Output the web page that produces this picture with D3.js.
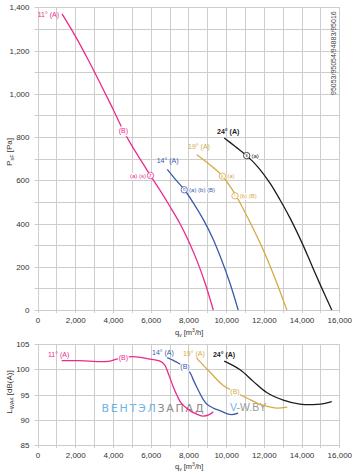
<!DOCTYPE html>
<html><head><meta charset="utf-8">
<script src="https://cdn.jsdelivr.net/npm/d3@7"></script>
<style>
html,body{margin:0;padding:0;background:#fff;}
svg{display:block;font-family:"Liberation Sans",Arial,sans-serif;}
</style></head>
<body><svg id="c" width="355" height="472"></svg>
<script>
// ---------- data ----------
const qTicks = [0,2000,4000,6000,8000,10000,12000,14000,16000];
const pTicks = [0,200,400,600,800,1000,1200,1400];
const lTicks = [85,90,95,100,105];
const angles = ["11°","14°","19°","24°"];
const colors = ["#ec2a8c","#3b5ba9","#d6ab45","#1c1c1c"];

const pressure11 = [[1300,1370],[2000,1268],[2700,1155],[3400,1035],[4000,930],[4550,830],[5000,760],[5500,690],[6000,620],[6500,553],[7000,482],[7550,400],[8080,305],[8500,218],[8900,120],[9320,0]];
const pressure14 = [[6880,650],[7300,605],[7800,555],[8300,490],[8800,417],[9300,330],[9700,245],[10200,125],[10640,0]];
const pressure19 = [[8440,718],[8800,695],[9300,660],[9800,620],[10300,560],[10650,510],[11300,400],[11970,278],[12600,145],[13220,0]];
const pressure24 = [[9900,796],[10500,755],[11090,714],[11700,660],[12325,587],[12855,510],[13390,425],[14000,315],[14500,215],[15000,115],[15600,0]];

const sound11 = [[1280,101.7],[2250,101.7],[3300,101.5],[3840,101.6],[4200,102.0],[4550,102.3],[5080,102.5],[5960,102.0],[6500,101.6],[6750,100.8],[6950,99.0],[7200,96.5],[7400,94.8],[7600,93.4],[8080,91.8],[8500,91.0],[8790,90.7],[9100,91.0],[9320,91.6]];
const sound14 = [[6880,102.3],[7380,101.4],[7820,100.4],[8080,99.4],[8260,97.9],[8440,96.5],[8790,94.0],[9000,93.0],[9320,92.3],[9670,91.8],[10030,91.2],[10300,91.0],[10640,91.3]];
const sound19 = [[8440,102.2],[8610,101.5],[9150,99.4],[9850,96.8],[10470,95.5],[11260,94.0],[11700,93.2],[12150,92.7],[12680,92.3],[13240,92.5]];
const sound24 = [[9900,101.6],[10740,99.9],[11440,97.6],[12150,95.4],[13030,93.9],[13910,93.1],[14620,93.0],[15000,93.1],[15600,93.6]];

// label anchors (data units)
const pressureTitles = [[1140,1368,"end"],[6320,695,"start"],[7980,757,"start"],[9520,827,"start"]];
const soundTitles = [[557,103.0],[6070,103.4],[7710,103.3],[9300,103.0]];
const pressureB = [[4550,830,0]];
const soundB = [[4550,102.3,0],[7820,100.5,1],[10470,95.6,2]];
// markers: q, P, series index, circled letter, text, text side
const markers = [[5990,622,0,"z","(a) (s)","left"],[7780,556,1,"n","(a) (b) (B)","right"],[9800,619,2,"k","(a)","right"],[10470,528,2,"t","(b) (B)","right"],[11090,714,3,"s","(a)","right"]];

const pressureSeries = [pressure11,pressure14,pressure19,pressure24];
const soundSeries = [sound11,sound14,sound19,sound24];

// ---------- layout ----------
const svg = d3.select("#c");
const X0 = 37.5, X1 = 339.3;
const x = d3.scaleLinear().domain([0,16000]).range([X0,X1]);
const yP = d3.scaleLinear().domain([0,1400]).range([310,7.3]);
const yL = d3.scaleLinear().domain([85,105]).range([445,344]);
const gridColor = "#cdcdcd";
const fmt = d3.format(",");

function grid(y, yMin, yMax, yStep){
  const g = svg.append("g");
  g.selectAll("line.v").data(d3.range(0,16001,1000)).join("line")
    .attr("x1",d=>Math.round(x(d))+0.5).attr("x2",d=>Math.round(x(d))+0.5)
    .attr("y1",y(yMax)).attr("y2",y(yMin)+3)
    .attr("stroke",gridColor).attr("stroke-width",1);
  g.selectAll("line.h").data(d3.range(yMin,yMax+0.001,yStep)).join("line")
    .attr("x1",X0-3).attr("x2",X1)
    .attr("y1",d=>Math.round(y(d))+0.5).attr("y2",d=>Math.round(y(d))+0.5)
    .attr("stroke",gridColor).attr("stroke-width",1);
}
grid(yP,0,1400,100);
grid(yL,85,105,5);

function xAxis(y0){
  const a = d3.axisBottom(x).tickValues(qTicks).tickFormat(fmt).tickSize(0).tickPadding(7.5);
  const g = svg.append("g").attr("transform",`translate(0,${y0})`).call(a);
  g.select(".domain").remove();
  g.selectAll("text").attr("font-size",8).attr("fill","#333").attr("font-family","Liberation Sans, Arial, sans-serif");
}
xAxis(310); xAxis(445);
function yAxis(y, ticks, f){
  const a = d3.axisLeft(y).tickValues(ticks).tickFormat(f).tickSize(0).tickPadding(8);
  const g = svg.append("g").attr("transform",`translate(${X0},0)`).call(a);
  g.select(".domain").remove();
  g.selectAll("text").attr("font-size",8).attr("fill","#333").attr("font-family","Liberation Sans, Arial, sans-serif");
}
yAxis(yP,pTicks,fmt); yAxis(yL,lTicks,d3.format("d"));

function xTitle(yy){
  const t = svg.append("text").attr("x",175).attr("y",yy).attr("font-size",7.5).attr("fill","#333");
  t.append("tspan").text("q");
  t.append("tspan").attr("font-size",5).attr("dy",1.5).text("v");
  t.append("tspan").attr("dy",-1.5).text(" [m");
  t.append("tspan").attr("font-size",5).attr("dy",-3).text("3");
  t.append("tspan").attr("dy",3).text("/h]");
}
xTitle(335); xTitle(469);
function yTitle(cy, main, sub, rest){
  const t = svg.append("text").attr("transform",`translate(12,${cy}) rotate(-90)`)
    .attr("text-anchor","middle").attr("font-size",8).attr("fill","#333");
  t.append("tspan").text(main);
  t.append("tspan").attr("font-size",5.5).attr("dy",2).text(sub);
  t.append("tspan").attr("dy",-2).text(rest);
}
yTitle(152,"P","sF"," [Pa]");
yTitle(392,"L","WA4"," [dB(A)]");

svg.append("text").attr("transform","translate(336,95) rotate(-90)")
  .attr("font-size",7).attr("fill","#444").text("95053/95054/94883/95016");

// watermark
const wm = svg.append("text").attr("x",101.5).attr("y",412).attr("font-size",11)
  .attr("textLength",102).attr("lengthAdjust","spacing")
  .attr("font-family","DejaVu Sans, sans-serif");
wm.append("tspan").attr("fill","#6fb4e8").text("ВЕНТЭЛ");
wm.append("tspan").attr("fill","#8a8a8a").text("ЗАПАД");
const wm2 = svg.append("text").attr("x",230).attr("y",411).attr("font-size",10.5);
wm2.append("tspan").attr("fill","#6fb4e8").text("V");
wm2.append("tspan").attr("fill","#9a9a9a").text("-W.BY");

// curves
const lineP = d3.line().x(d=>x(d[0])).y(d=>yP(d[1])).curve(d3.curveCatmullRom.alpha(0.5));
const lineL = d3.line().x(d=>x(d[0])).y(d=>yL(d[1])).curve(d3.curveCatmullRom.alpha(0.5));
svg.append("g").selectAll("path").data(pressureSeries).join("path")
  .attr("d",lineP).attr("fill","none").attr("stroke",(d,i)=>colors[i]).attr("stroke-width",1.3);
svg.append("g").selectAll("path").data(soundSeries).join("path")
  .attr("d",lineL).attr("fill","none").attr("stroke",(d,i)=>colors[i]).attr("stroke-width",1.3);

pressureTitles.forEach((d,i)=>{
  svg.append("text").attr("x",x(d[0])).attr("y",yP(d[1])+3).attr("text-anchor",d[2])
    .attr("font-size",7).attr("fill",colors[i]).attr("font-weight",i===3?"bold":"normal")
    .text(angles[i]+" (A)");
});
soundTitles.forEach((d,i)=>{
  svg.append("text").attr("x",x(d[0])).attr("y",yL(d[1])+3)
    .attr("font-size",7).attr("fill",colors[i]).attr("font-weight",i===3?"bold":"normal")
    .text(angles[i]+" (A)");
});
function bLabel(px,py,c){
  svg.append("text").attr("x",px).attr("y",py+2.6).attr("text-anchor","middle")
    .attr("font-size",7).attr("fill",c).attr("stroke","#fff").attr("stroke-width",2.5)
    .attr("paint-order","stroke").text("(B)");
}
pressureB.forEach(d=>bLabel(x(d[0]),yP(d[1]),colors[d[2]]));
soundB.forEach(d=>bLabel(x(d[0]),yL(d[1]),colors[d[2]]));

markers.forEach(d=>{
  const cx = x(d[0]), cy = yP(d[1]), c = colors[d[2]];
  svg.append("circle").attr("cx",cx).attr("cy",cy).attr("r",3.2).attr("fill","#fff").attr("stroke",c).attr("stroke-width",0.8);
  svg.append("text").attr("x",cx).attr("y",cy+1.6).attr("text-anchor","middle").attr("font-size",4.5).attr("fill",c).text(d[3]);
  const left = d[5]==="left";
  svg.append("text").attr("x",left?cx-4.5:cx+4.8).attr("y",cy+2.2).attr("text-anchor",left?"end":"start")
    .attr("font-size",6).attr("fill",c).attr("stroke","#fff").attr("stroke-width",2).attr("paint-order","stroke").text(d[4]);
});
</script>
</body></html>
